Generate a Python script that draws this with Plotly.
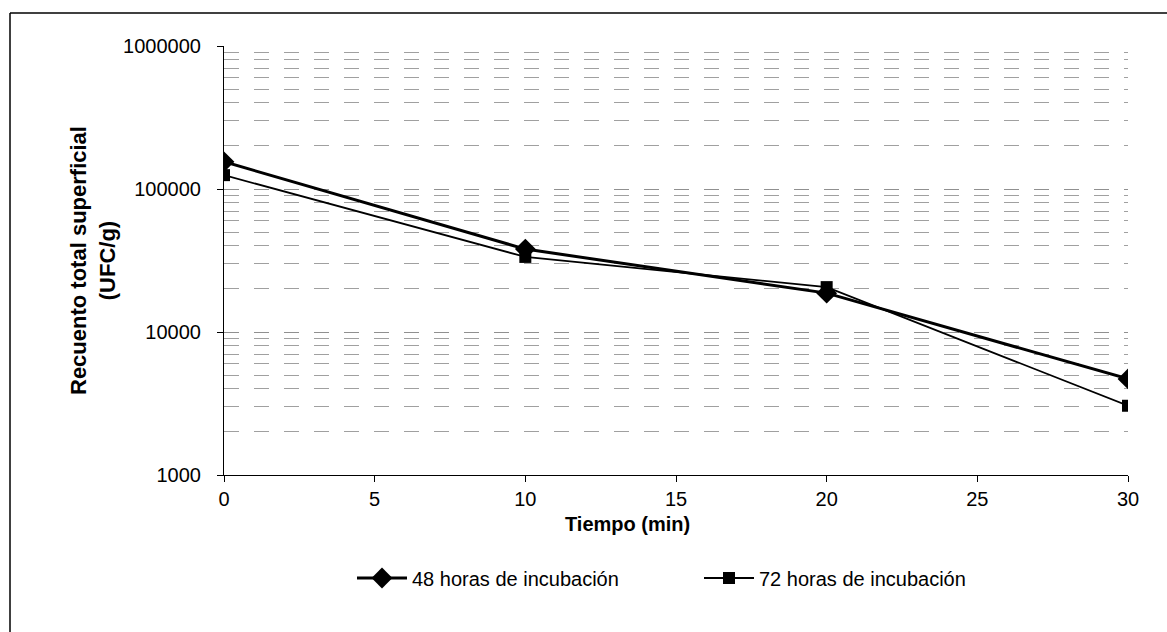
import plotly.graph_objects as go

tiempo = [0, 10, 20, 30]
h48 = [155000, 38000, 18700, 4700]
h72 = [125000, 33500, 20600, 3050]
serie_48 = "48 horas de incubación"
serie_72 = "72 horas de incubación"
y_ticks = [1000, 10000, 100000, 1000000]
y_tick_text = ["1000", "10000", "100000", "1000000"]
x_ticks = [0, 5, 10, 15, 20, 25, 30]

FONT = "Liberation Sans, Arial, sans-serif"

L, R, T, B = 224, 39, 46, 157
PW, PH = 1167 - L - R, 632 - T - B


def px_x(p):
    return (p - L) / PW


def px_y(p):
    return (632 - B - p) / PH


fig = go.Figure()
fig.add_trace(go.Scatter(
    x=tiempo, y=h48, name=serie_48, mode="lines+markers",
    line=dict(color="black", width=3),
    marker=dict(symbol="diamond", size=16, color="black"),
))
fig.add_trace(go.Scatter(
    x=tiempo, y=h72, name=serie_72, mode="lines+markers",
    line=dict(color="black", width=1.8),
    marker=dict(symbol="square", size=12, color="black"),
))

fig.update_layout(
    width=1167, height=632,
    margin=dict(l=L, r=R, t=T, b=B),
    paper_bgcolor="white", plot_bgcolor="white",
    font=dict(family=FONT, size=20, color="black"),
    showlegend=True,
    legend=dict(orientation="h", x=px_x(352), y=px_y(578), xanchor="left", yanchor="middle",
                font=dict(size=20), itemwidth=50, entrywidth=282, bgcolor="rgba(0,0,0,0)"),
    shapes=[
        dict(type="line", xref="paper", yref="paper",
             x0=px_x(10), x1=px_x(10), y0=px_y(13), y1=px_y(640),
             line=dict(color="black", width=1.5)),
        dict(type="line", xref="paper", yref="paper",
             x0=px_x(10), x1=px_x(1170), y0=px_y(13), y1=px_y(13),
             line=dict(color="black", width=1.5)),
    ],
    annotations=[
        dict(text="<b>Tiempo (min)</b>", xref="paper", yref="paper",
             x=px_x(627), y=px_y(524), xanchor="center", yanchor="middle",
             showarrow=False, font=dict(size=20)),
        dict(text="<b>Recuento total superficial<br>(UFC/g)</b>", xref="paper", yref="paper",
             x=px_x(93), y=px_y(261), xanchor="center", yanchor="middle", textangle=-90,
             showarrow=False, font=dict(size=22)),
    ],
)

fig.update_xaxes(
    range=[0, 30], tickvals=x_ticks, ticks="outside", ticklen=6, tickcolor="black",
    showline=True, linecolor="black", linewidth=1.2, showgrid=False, zeroline=False,
    tickfont=dict(size=20),
)
fig.update_yaxes(
    type="log", range=[3, 6], tickvals=y_ticks, ticktext=y_tick_text,
    ticks="outside", ticklen=6, tickcolor="black", ticklabelstandoff=12,
    showline=True, linecolor="black", linewidth=1.2,
    showgrid=True, gridcolor="#909090", gridwidth=1, griddash="longdash",
    minor=dict(dtick="D1", showgrid=True, gridcolor="#a0a0a0", gridwidth=1, griddash="longdash",
               ticks=""),
    zeroline=False,
    tickfont=dict(size=20),
)

fig.write_html("out.html")
